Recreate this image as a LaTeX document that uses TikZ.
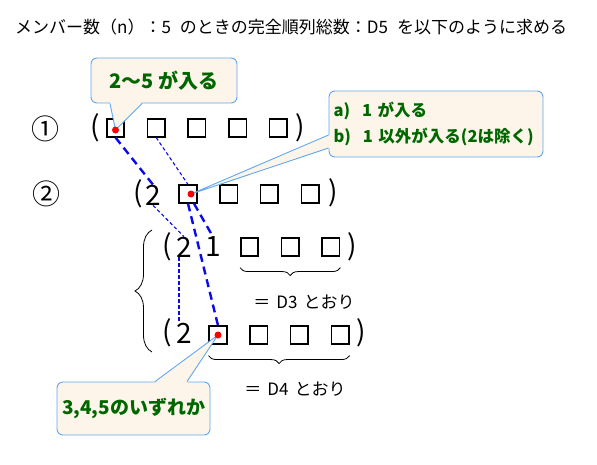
\documentclass[tikz,border=0pt]{standalone}
\usepackage{fontspec}
\setmainfont{Noto Sans CJK JP}
\usetikzlibrary{decorations.pathreplacing}
\definecolor{callfill}{RGB}{253,245,233}
\definecolor{callline}{RGB}{95,168,240}
\definecolor{saygreen}{RGB}{0,102,0}
\definecolor{dashblue}{RGB}{10,10,235}
\definecolor{dotred}{RGB}{255,0,0}
\begin{document}
\begin{tikzpicture}
        [x=1pt,y=-1pt,node distance=40.7pt,
         cell/.style={draw,line width=1.6pt,minimum size=17.5pt,inner sep=0pt},
         glyph/.style={inner sep=0pt,font=\fontsize{28}{28}\selectfont},
         note/.style={inner sep=0pt,font=\fontsize{17}{17}\selectfont},
         callbox/.style={draw=callline,fill=callfill,line width=0.9pt,
           rounded corners=6pt,text=saygreen,inner sep=0pt},
         callside/.style={draw=callline,line width=0.9pt},
         thickdash/.style={draw=dashblue,line width=2.4pt,dash pattern=on 8pt off 5pt},
         thindash/.style={draw=dashblue,line width=1.1pt,dash pattern=on 3.5pt off 2.5pt},
         underbrace/.style={decorate,decoration={brace,amplitude=8pt},line width=0.8pt},
         sidebrace/.style={decorate,decoration={brace,amplitude=17pt},line width=0.8pt}]
        \useasboundingbox (0,0) rectangle (597,464);

        \node[note,anchor=west,font=\fontsize{17}{17}\selectfont] (title) at (15,27)
          {メンバー数（n）：5\hspace{9pt}のときの完全順列総数：D5\hspace{9pt}を以下のように求める};

        % row 1
        \node[glyph] (num1) at (45,129) {①};
        \node[glyph] (open1) at (95,128) {(};
        \node[cell] (b11) at (115.5,128) {};
        \node[cell,right of=b11] (b12) {};
        \node[cell,right of=b12] (b13) {};
        \node[cell,right of=b13] (b14) {};
        \node[cell,right of=b14] (b15) {};
        \node[glyph] (close1) at (300,128) {)};

        % row 2
        \node[glyph] (num2) at (46,194) {②};
        \node[glyph] (open2) at (138,194) {(};
        \node[glyph] (two2) at (153,195) {2};
        \node[cell] (b21) at (188,194) {};
        \node[cell,right of=b21] (b22) {};
        \node[cell,right of=b22] (b23) {};
        \node[cell,right of=b23] (b24) {};
        \node[glyph] (close2) at (333,193) {)};

        % row 3
        \node[glyph] (open3) at (167,247) {(};
        \node[glyph] (two3) at (184,247) {2};
        \node[glyph] (one3) at (213,247) {1};
        \node[cell] (b31) at (249.5,247) {};
        \node[cell,right of=b31] (b32) {};
        \node[cell,right of=b32] (b33) {};
        \node[glyph] (close3) at (352,247) {)};

        % row 4
        \node[glyph] (open4) at (167,333) {(};
        \node[glyph] (two4) at (184,333) {2};
        \node[cell] (b41) at (218,335) {};
        \node[cell,right of=b41] (b42) {};
        \node[cell,right of=b42] (b43) {};
        \node[cell,right of=b43] (b44) {};
        \node[glyph] (close4) at (361,333) {)};

        \draw[thickdash] (b11.south) -- (two2.north);
        \draw[thindash] (b12.south) -- (b21.north);
        \draw[thindash] (two2.south) -- (two3.north);
        \draw[thindash] ([xshift=-5pt]two3.south) -- ([xshift=-5pt]two4.north);
        \draw[thickdash] (b21.south) -- (b41.north);
        \draw[thickdash] ([xshift=6pt]b21.south) -- (one3.north);

        % braces
        \draw[underbrace] ([yshift=-11pt]b33.south east) -- ([yshift=-11pt]b31.south west);
        \node[note] (d3) at (304,302) {＝\hspace{6pt}D3\hspace{6pt}とおり};
        \draw[underbrace] ([yshift=-11pt]b44.south east) -- ([yshift=-11pt]b41.south west);
        \node[note] (d4) at (295,389) {＝\hspace{6pt}D4\hspace{6pt}とおり};
        \coordinate (lbtop) at (152,230);
        \coordinate (lbbot) at (152,352);
        \draw[sidebrace] (lbbot) -- (lbtop);

        \coordinate (dot1) at ([yshift=-2pt]b11.center);
        \coordinate (dot2) at ([xshift=3pt]b21.center);
        \coordinate (dot4) at (b41.center);

        % callouts
        \node[callbox,minimum width=146pt,minimum height=45pt,
          font=\bfseries\fontsize{20}{20}\selectfont] (say1) at (164,80.5) {2～5 が入る};
        \fill[callfill] ([xshift=-54pt,yshift=1.5pt]say1.south) -- (dot1)
          -- ([xshift=-22pt,yshift=1.5pt]say1.south) -- cycle;
        \draw[callside] ([xshift=-54pt]say1.south) -- (dot1) -- ([xshift=-22pt]say1.south);

        \node[callbox,minimum width=214pt,minimum height=66pt,text width=205pt,align=left,
          font=\bfseries\fontsize{16.5}{26}\selectfont] (say2) at (436,124)
          {a)\hspace{12pt}1 が入る\\b)\hspace{12pt}1 以外が入る(2は除く)};
        \fill[callfill] ([xshift=1.5pt,yshift=-11pt]say2.west) -- (dot2)
          -- ([xshift=1.5pt,yshift=-24pt]say2.west) -- cycle;
        \draw[callside] ([yshift=-11pt]say2.west) -- (dot2) -- ([yshift=-24pt]say2.west);

        \node[callbox,minimum width=153pt,minimum height=53pt,text width=143pt,align=left,
          font=\bfseries\fontsize{19}{19}\selectfont] (say3) at (133.5,408.5) {3,4,5のいずれか};
        \fill[callfill] ([xshift=21.5pt,yshift=-1.5pt]say3.north) -- (dot4)
          -- ([xshift=53.5pt,yshift=-1.5pt]say3.north) -- cycle;
        \draw[callside] ([xshift=21.5pt]say3.north) -- (dot4) -- ([xshift=53.5pt]say3.north);

        \fill[dotred] (dot1) circle (3.5pt);
        \fill[dotred] (dot2) circle (3.5pt);
        \fill[dotred] (dot4) circle (3.5pt);
      \end{tikzpicture}
\end{document}
